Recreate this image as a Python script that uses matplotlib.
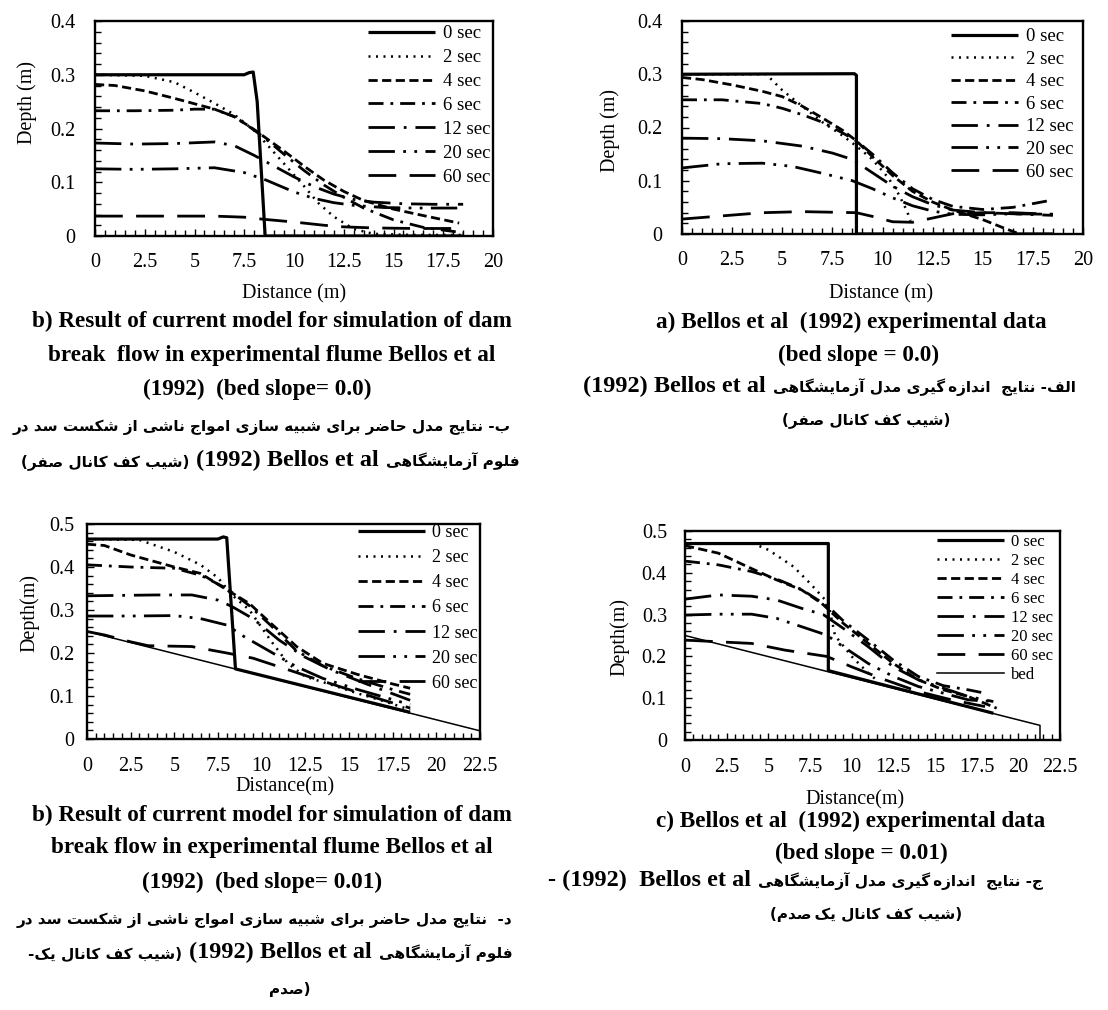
import matplotlib
matplotlib.use("Agg")
import matplotlib.pyplot as plt
from matplotlib.ticker import MultipleLocator

plt.rcParams["font.family"] = "Liberation Serif"

# ---------------------------------------------------------------- data
labels = ["0 sec", "2 sec", "4 sec", "6 sec", "12 sec", "20 sec", "60 sec"]

# current model, bed slope 0.0
mod0_x_t0 = [0, 7.5, 7.75, 7.95, 8.15, 8.55, 9.0, 18.5]
mod0_y_t0 = [0.3, 0.3, 0.304, 0.305, 0.25, 0.0, 0.0, 0.0]
mod0_x_t2 = [0, 2.5, 4, 5, 6, 7, 8, 8.6, 9.2, 9.8, 10.5, 11.2, 12, 13, 14, 16, 18.5]
mod0_y_t2 = [0.3, 0.298, 0.286, 0.267, 0.247, 0.226, 0.196, 0.172, 0.147, 0.122, 0.093, 0.062, 0.036, 0.013, 0.004, 0.002, 0.002]
mod0_x_t4 = [0, 1, 2.5, 4, 5, 6, 7, 8, 8.6, 9.5, 10.5, 11.5, 12.5, 13.5, 15, 16.5, 18.3]
mod0_y_t4 = [0.282, 0.28, 0.27, 0.256, 0.246, 0.236, 0.222, 0.198, 0.182, 0.158, 0.13, 0.104, 0.083, 0.066, 0.05, 0.038, 0.024]
mod0_x_t6 = [0, 2, 4, 5, 6, 7, 8, 8.6, 9.5, 10.5, 11.5, 12.5, 13.5, 15, 16.5, 18.5]
mod0_y_t6 = [0.233, 0.233, 0.234, 0.236, 0.236, 0.222, 0.197, 0.18, 0.152, 0.122, 0.095, 0.072, 0.052, 0.03, 0.016, 0.006]
mod0_x_t12 = [0, 2, 4, 6, 7, 8, 9, 10, 11, 12, 13, 14, 15.5, 17, 18.5]
mod0_y_t12 = [0.173, 0.171, 0.172, 0.175, 0.168, 0.15, 0.13, 0.11, 0.092, 0.078, 0.068, 0.063, 0.06, 0.059, 0.059]
mod0_x_t20 = [0, 2, 4, 6, 7.5, 8.6, 10, 11, 12, 13, 14.5, 16, 18.5]
mod0_y_t20 = [0.125, 0.124, 0.125, 0.127, 0.118, 0.104, 0.082, 0.07, 0.062, 0.057, 0.053, 0.052, 0.052]
mod0_x_t60 = [0, 3, 6, 7.5, 8.5, 10, 11.5, 12.5, 14, 16, 18.5]
mod0_y_t60 = [0.037, 0.037, 0.037, 0.035, 0.031, 0.026, 0.02, 0.017, 0.015, 0.014, 0.014]

# experimental data, bed slope 0.0
exp0_x_t0 = [0, 8.6, 8.7, 8.7, 18.5]
exp0_y_t0 = [0.3, 0.301, 0.298, 0.0, 0.0]
exp0_x_t2 = [0, 4.2, 5, 6, 7, 8, 8.7, 9.5, 10.3, 10.8, 11.2, 11.4]
exp0_y_t2 = [0.3, 0.3, 0.27, 0.24, 0.21, 0.185, 0.165, 0.14, 0.105, 0.075, 0.045, 0.025]
exp0_x_t4 = [0, 1, 2.5, 4, 5, 6, 7, 8, 8.7, 9.5, 10.5, 11.5, 12.5, 13.5, 15, 16, 16.7]
exp0_y_t4 = [0.294, 0.29, 0.28, 0.268, 0.258, 0.24, 0.218, 0.195, 0.175, 0.145, 0.11, 0.08, 0.06, 0.045, 0.027, 0.012, 0.002]
exp0_x_t6 = [0, 2, 4, 5, 6, 7, 8, 8.7, 9.5, 10.5, 11.5, 12.5, 13.5, 15, 16.5, 18.5]
exp0_y_t6 = [0.252, 0.252, 0.245, 0.236, 0.224, 0.21, 0.19, 0.175, 0.15, 0.115, 0.085, 0.065, 0.052, 0.046, 0.05, 0.064]
exp0_x_t12 = [0, 2, 4, 6, 7.5, 8.5, 9.5, 10.5, 11.5, 12.5, 13.5, 15, 16.5, 18.5]
exp0_y_t12 = [0.18, 0.179, 0.175, 0.165, 0.152, 0.14, 0.115, 0.09, 0.07, 0.055, 0.045, 0.04, 0.038, 0.035]
exp0_x_t20 = [0, 2, 4, 5.5, 7, 8.5, 9.5, 10.5, 11.5, 12.5, 13.5, 15, 16.5, 18.5]
exp0_y_t20 = [0.124, 0.132, 0.133, 0.127, 0.114, 0.1, 0.085, 0.068, 0.053, 0.043, 0.037, 0.036, 0.038, 0.037]
exp0_x_t60 = [0, 2, 4, 6, 8.7, 9.5, 10.5, 11.5, 12.5, 13.5, 15, 16.5, 18.5]
exp0_y_t60 = [0.028, 0.034, 0.04, 0.042, 0.04, 0.033, 0.023, 0.022, 0.03, 0.038, 0.04, 0.04, 0.037]

# current model, bed slope 0.01
mod1_x_bed = [0, 22.5]
mod1_y_bed = [0.25, 0.019]
mod1_x_t0 = [0, 7.5, 7.8, 8.0, 8.5, 18.5]
mod1_y_t0 = [0.465, 0.465, 0.47, 0.468, 0.163, 0.062]
mod1_x_t2 = [0, 3, 5, 6.5, 7.5, 8.3, 9.3, 10.5, 11.5, 12.5, 14, 15.5, 17, 18.5]
mod1_y_t2 = [0.465, 0.463, 0.435, 0.405, 0.375, 0.335, 0.3, 0.23, 0.176, 0.145, 0.126, 0.106, 0.088, 0.068]
mod1_x_t4 = [0, 1, 2.5, 5, 6.5, 8, 9.3, 10.5, 12, 13.5, 15.5, 17.5, 18.5]
mod1_y_t4 = [0.453, 0.45, 0.428, 0.4, 0.385, 0.347, 0.315, 0.27, 0.215, 0.176, 0.15, 0.128, 0.118]
mod1_x_t6 = [0, 2.5, 5, 6.5, 8, 9.3, 10.5, 12, 13.5, 15.5, 17.5, 18.5]
mod1_y_t6 = [0.405, 0.4, 0.397, 0.381, 0.35, 0.31, 0.265, 0.205, 0.17, 0.14, 0.115, 0.104]
mod1_x_t12 = [0, 2, 4, 6, 7.5, 8.3, 9.5, 11, 12.5, 14, 16, 18.5]
mod1_y_t12 = [0.333, 0.334, 0.335, 0.335, 0.323, 0.308, 0.28, 0.23, 0.19, 0.16, 0.128, 0.09]
mod1_x_t20 = [0, 2.5, 5, 6.5, 8, 9, 10.5, 12, 13.5, 15.5, 18.5]
mod1_y_t20 = [0.286, 0.286, 0.287, 0.28, 0.265, 0.238, 0.203, 0.168, 0.141, 0.115, 0.08]
mod1_x_t60 = [0, 1, 2.5, 3.5, 6, 8, 9.5, 11, 13, 15, 17, 18.5]
mod1_y_t60 = [0.25, 0.242, 0.226, 0.217, 0.215, 0.2, 0.188, 0.168, 0.141, 0.115, 0.09, 0.072]

# experimental data, bed slope 0.01
exp1_x_bed = [0, 21.3, 21.3]
exp1_y_bed = [0.25, 0.035, 0.0]
exp1_x_t0 = [0, 8.6, 8.6, 18.5]
exp1_y_t0 = [0.47, 0.47, 0.166, 0.064]
exp1_x_t2 = [0, 4.1, 5, 6.5, 7.5, 8.6, 9.0, 10, 11, 11.6]
exp1_y_t2 = [0.47, 0.47, 0.455, 0.415, 0.375, 0.327, 0.25, 0.2, 0.16, 0.14]
exp1_x_t4 = [0, 2, 4, 5.5, 7, 8.2, 9.5, 11, 12.5, 14, 15.5, 17, 18.7]
exp1_y_t4 = [0.465, 0.447, 0.41, 0.383, 0.359, 0.327, 0.279, 0.231, 0.183, 0.144, 0.12, 0.104, 0.076]
exp1_x_t6 = [0, 2, 4, 5.5, 7, 8.6, 9.5, 11, 12.5, 14, 15.5, 17, 18]
exp1_y_t6 = [0.428, 0.419, 0.403, 0.385, 0.36, 0.319, 0.285, 0.239, 0.191, 0.152, 0.13, 0.12, 0.112]
exp1_x_t12 = [0, 2, 4, 5.5, 7, 8.3, 9.5, 11, 12.5, 14, 15.5, 17, 18.5]
exp1_y_t12 = [0.337, 0.347, 0.344, 0.335, 0.315, 0.3, 0.267, 0.223, 0.175, 0.144, 0.124, 0.104, 0.092]
exp1_x_t20 = [0, 2, 4, 5.5, 7, 8.5, 9.5, 11, 12.5, 14, 15.5, 17, 18.5]
exp1_y_t20 = [0.299, 0.301, 0.301, 0.291, 0.271, 0.251, 0.223, 0.183, 0.152, 0.128, 0.112, 0.096, 0.092]
exp1_x_t60 = [0, 2, 4, 6, 8.5, 10, 12, 14, 16, 18]
exp1_y_t60 = [0.239, 0.235, 0.231, 0.215, 0.2, 0.175, 0.144, 0.116, 0.096, 0.08]

xticks_20 = [0, 2.5, 5, 7.5, 10, 12.5, 15, 17.5, 20]
xticklabels_20 = ["0", "2.5", "5", "7.5", "10", "12.5", "15", "17.5", "20"]
xticks_22 = [0, 2.5, 5, 7.5, 10, 12.5, 15, 17.5, 20, 22.5]
xticklabels_22 = ["0", "2.5", "5", "7.5", "10", "12.5", "15", "17.5", "20", "22.5"]
yticks_04 = [0, 0.1, 0.2, 0.3, 0.4]
yticklabels_04 = ["0", "0.1", "0.2", "0.3", "0.4"]
yticks_05 = [0, 0.1, 0.2, 0.3, 0.4, 0.5]
yticklabels_05 = ["0", "0.1", "0.2", "0.3", "0.4", "0.5"]

# ---------------------------------------------------------------- line styles
STYLE = {
    "0 sec": dict(ls="-", lw=2.3),
    "2 sec": dict(ls=(0, (0.8, 2.2)), lw=1.8),
    "4 sec": dict(ls=(0, (3.3, 1.6)), lw=2.0),
    "6 sec": dict(ls=(0, (5.4, 2.5, 1.0, 2.5)), lw=2.0),
    "12 sec": dict(ls=(0, (9.5, 3.2, 1.0, 3.2)), lw=2.0),
    "20 sec": dict(ls=(0, (9.5, 3.0, 1.0, 3.0, 1.0, 3.0)), lw=2.0),
    "60 sec": dict(ls=(0, (10.0, 4.8)), lw=2.0),
}

# ---------------------------------------------------------------- Persian shaping
_FORMS = {
    0x0622: (0xFE81, 0xFE82, None, None),
    0x0627: (0xFE8D, 0xFE8E, None, None),
    0x0628: (0xFE8F, 0xFE90, 0xFE91, 0xFE92),
    0x067E: (0xFB56, 0xFB57, 0xFB58, 0xFB59),
    0x062A: (0xFE95, 0xFE96, 0xFE97, 0xFE98),
    0x062B: (0xFE99, 0xFE9A, 0xFE9B, 0xFE9C),
    0x062C: (0xFE9D, 0xFE9E, 0xFE9F, 0xFEA0),
    0x0686: (0xFB7A, 0xFB7B, 0xFB7C, 0xFB7D),
    0x062D: (0xFEA1, 0xFEA2, 0xFEA3, 0xFEA4),
    0x062E: (0xFEA5, 0xFEA6, 0xFEA7, 0xFEA8),
    0x062F: (0xFEA9, 0xFEAA, None, None),
    0x0630: (0xFEAB, 0xFEAC, None, None),
    0x0631: (0xFEAD, 0xFEAE, None, None),
    0x0632: (0xFEAF, 0xFEB0, None, None),
    0x0698: (0xFB8A, 0xFB8B, None, None),
    0x0633: (0xFEB1, 0xFEB2, 0xFEB3, 0xFEB4),
    0x0634: (0xFEB5, 0xFEB6, 0xFEB7, 0xFEB8),
    0x0635: (0xFEB9, 0xFEBA, 0xFEBB, 0xFEBC),
    0x0636: (0xFEBD, 0xFEBE, 0xFEBF, 0xFEC0),
    0x0637: (0xFEC1, 0xFEC2, 0xFEC3, 0xFEC4),
    0x0638: (0xFEC5, 0xFEC6, 0xFEC7, 0xFEC8),
    0x0639: (0xFEC9, 0xFECA, 0xFECB, 0xFECC),
    0x063A: (0xFECD, 0xFECE, 0xFECF, 0xFED0),
    0x0641: (0xFED1, 0xFED2, 0xFED3, 0xFED4),
    0x0642: (0xFED5, 0xFED6, 0xFED7, 0xFED8),
    0x06A9: (0xFB8E, 0xFB8F, 0xFB90, 0xFB91),
    0x06AF: (0xFB92, 0xFB93, 0xFB94, 0xFB95),
    0x0644: (0xFEDD, 0xFEDE, 0xFEDF, 0xFEE0),
    0x0645: (0xFEE1, 0xFEE2, 0xFEE3, 0xFEE4),
    0x0646: (0xFEE5, 0xFEE6, 0xFEE7, 0xFEE8),
    0x0648: (0xFEED, 0xFEEE, None, None),
    0x0647: (0xFEE9, 0xFEEA, 0xFEEB, 0xFEEC),
    0x06CC: (0xFBFC, 0xFBFD, 0xFBFE, 0xFBFF),
}


def _joins_next(c):
    f = _FORMS.get(ord(c))
    return f is not None and f[2] is not None


def rtl(s):
    """Contextual shaping plus right-to-left reordering of a Persian run."""
    s = s.replace("\u064A", "\u06CC").replace("\u0643", "\u06A9")
    out = []
    i, n = 0, len(s)
    while i < n:
        c = s[i]
        f = _FORMS.get(ord(c))
        if f is None:
            out.append("\u2009" if c == "\u200c" else c)
            i += 1
            continue
        pj = i > 0 and _joins_next(s[i - 1])
        if c == "\u0644" and i + 1 < n and s[i + 1] in "\u0627\u0622":
            lig = (0xFEFB, 0xFEFC) if s[i + 1] == "\u0627" else (0xFEF5, 0xFEF6)
            out.append(chr(lig[1] if pj else lig[0]))
            i += 2
            continue
        nj = f[2] is not None and i + 1 < n and ord(s[i + 1]) in _FORMS
        if pj and nj:
            g = f[3]
        elif pj:
            g = f[1]
        elif nj:
            g = f[2]
        else:
            g = f[0]
        out.append(chr(g))
        i += 1
    return "".join(reversed(out))


# ---------------------------------------------------------------- figure
W, H = 1108, 1010
fig = plt.figure(figsize=(W / 100, H / 100), dpi=100)


def axes_px(l, t, r, b):
    return fig.add_axes([l / W, 1 - b / H, (r - l) / W, (b - t) / H])


def panel(ax, series, xmax, ymax, xt, xtl, yt, ytl, xlabel, ylabel,
          xlab_pos, ylab_pos, leg_anchor, leg_fs, leg_sp, xpad, ypad,
          bed=None, bed_label=None):
    for lab, (xs, ys) in zip(labels, series):
        ax.plot(xs, ys, color="black", label=lab, solid_capstyle="butt",
                dash_capstyle="butt", **STYLE[lab])
    if bed is not None:
        ax.plot(bed[0], bed[1], color="black", lw=1.1, ls="-", label=bed_label)
    ax.set_xlim(0, xmax)
    ax.set_ylim(0, ymax)
    ax.set_xticks(xt)
    ax.set_xticklabels(xtl)
    ax.set_yticks(yt)
    ax.set_yticklabels(ytl)
    ax.xaxis.set_minor_locator(MultipleLocator(0.5))
    ax.yaxis.set_minor_locator(MultipleLocator(0.02))
    ax.tick_params(which="both", direction="in", top=False, right=False,
                   width=1.0, labelsize=14.5)
    ax.tick_params(which="major", length=5)
    ax.tick_params(which="minor", length=4)
    ax.tick_params(axis="x", which="major", pad=xpad)
    ax.tick_params(axis="y", which="major", pad=ypad)
    for sp in ax.spines.values():
        sp.set_linewidth(1.7)
    ax.set_xlabel(xlabel, fontsize=14.5)
    ax.set_ylabel(ylabel, fontsize=14.5)
    ax.xaxis.set_label_coords(*xlab_pos)
    ax.yaxis.set_label_coords(*ylab_pos)
    handles, labs = ax.get_legend_handles_labels()
    if bed_label is None:
        handles, labs = handles[:7], labs[:7]
    hl = 67.0 / (leg_fs * 100 / 72)
    ax.legend(handles, labs, loc="upper left", bbox_to_anchor=leg_anchor,
              frameon=False, fontsize=leg_fs, labelspacing=leg_sp,
              handlelength=hl, handletextpad=0.4, borderpad=0,
              borderaxespad=0)


ax_a = axes_px(95, 21, 493, 236)
panel(ax_a,
      [(mod0_x_t0, mod0_y_t0), (mod0_x_t2, mod0_y_t2), (mod0_x_t4, mod0_y_t4),
       (mod0_x_t6, mod0_y_t6), (mod0_x_t12, mod0_y_t12), (mod0_x_t20, mod0_y_t20),
       (mod0_x_t60, mod0_y_t60)],
      20, 0.4, xticks_20, xticklabels_20, yticks_04, yticklabels_04,
      "Distance (m)", "Depth (m)", (0.5, -0.225), (-0.146, 0.62),
      (0.686, 0.98), 13.5, 0.36, 12, 14)

ax_b = axes_px(682, 21, 1083, 234)
panel(ax_b,
      [(exp0_x_t0, exp0_y_t0), (exp0_x_t2, exp0_y_t2), (exp0_x_t4, exp0_y_t4),
       (exp0_x_t6, exp0_y_t6), (exp0_x_t12, exp0_y_t12), (exp0_x_t20, exp0_y_t20),
       (exp0_x_t60, exp0_y_t60)],
      20, 0.4, xticks_20, xticklabels_20, yticks_04, yticklabels_04,
      "Distance (m)", "Depth (m)", (0.496, -0.235), (-0.155, 0.484),
      (0.671, 0.967), 13.5, 0.29, 12, 14)

ax_c = axes_px(87, 524, 480, 739)
panel(ax_c,
      [(mod1_x_t0, mod1_y_t0), (mod1_x_t2, mod1_y_t2), (mod1_x_t4, mod1_y_t4),
       (mod1_x_t6, mod1_y_t6), (mod1_x_t12, mod1_y_t12), (mod1_x_t20, mod1_y_t20),
       (mod1_x_t60, mod1_y_t60)],
      22.5, 0.5, xticks_22, xticklabels_22, yticks_05, yticklabels_05,
      "Distance(m)", "Depth(m)", (0.504, -0.18), (-0.122, 0.588),
      (0.69, 1.0), 13, 0.45, 13, 9, bed=(mod1_x_bed, mod1_y_bed))

ax_d = axes_px(685, 531, 1060, 740)
panel(ax_d,
      [(exp1_x_t0, exp1_y_t0), (exp1_x_t2, exp1_y_t2), (exp1_x_t4, exp1_y_t4),
       (exp1_x_t6, exp1_y_t6), (exp1_x_t12, exp1_y_t12), (exp1_x_t20, exp1_y_t20),
       (exp1_x_t60, exp1_y_t60)],
      22.5, 0.5, xticks_22, xticklabels_22, yticks_05, yticklabels_05,
      "Distance(m)", "Depth(m)", (0.453, -0.24), (-0.147, 0.494),
      (0.672, 0.986), 12, 0.18, 13, 13,
      bed=(exp1_x_bed, exp1_y_bed), bed_label="bed")

# ---------------------------------------------------------------- captions
EN_FS = 16.7
MIX_EN_FS = 17.5
FA_FS = 11.0
GAP = 7
renderer = fig.canvas.get_renderer()


def cap(x, y, s, ha="center"):
    fig.text(x / W, 1 - y / H, s, ha=ha, va="center", fontsize=EN_FS,
             fontweight="bold", family="Liberation Serif")


def mixed(x, y, parts, ha="center"):
    """Lay out a line of Persian ('fa') and Latin ('en') runs left to right."""
    objs = []
    for s, kind in parts:
        fam = "DejaVu Sans" if kind == "fa" else "Liberation Serif"
        fs = FA_FS if kind == "fa" else MIX_EN_FS
        objs.append(fig.text(0, 1 - (y + 6) / H, s, ha="left", va="baseline",
                             fontsize=fs, fontweight="bold", family=fam))
    widths = [t.get_window_extent(renderer).width for t in objs]
    total = sum(widths) + GAP * (len(objs) - 1)
    x0 = x - total / 2 if ha == "center" else x
    for t, w in zip(objs, widths):
        t.set_x(x0 / W)
        x0 += w + GAP


# top left
cap(272, 321, "b) Result of current model for simulation of dam")
cap(272, 355, "break  flow in experimental flume Bellos et al")
cap(257, 389, "(1992)  (bed slope= 0.0)")
mixed(262, 425, [(rtl("ب- نتایج مدل حاضر برای شبیه سازی امواج ناشی از شکست سد در"), "fa")])
mixed(270, 460, [("(" + rtl("شیب کف کانال صفر") + ")", "fa"),
                 ("(1992) Bellos et al", "en"),
                 (rtl("فلوم آزمایشگاهی"), "fa")])

# top right
cap(851, 322, "a) Bellos et al  (1992) experimental data")
cap(859, 355, "(bed slope = 0.0)")
mixed(583, 386, [("(1992) Bellos et al", "en"),
                 (rtl("الف- نتایج  اندازه\u200cگیری مدل آزمایشگاهی"), "fa")], ha="left")
mixed(866, 418, [("(" + rtl("شیب کف کانال صفر") + ")", "fa")])

# bottom left
cap(272, 815, "b) Result of current model for simulation of dam")
cap(272, 848, "break flow in experimental flume Bellos et al")
cap(262, 882, "(1992)  (bed slope= 0.01)")
mixed(265, 918, [(rtl("د-  نتایج مدل حاضر برای شبیه سازی امواج ناشی از شکست سد در"), "fa")])
mixed(270, 952, [("-" + rtl("شیب کف کانال یک") + ")", "fa"),
                 ("(1992) Bellos et al", "en"),
                 (rtl("فلوم آزمایشگاهی"), "fa")])
mixed(290, 988, [(rtl("صدم") + ")", "fa")])

# bottom right
cap(851, 821, "c) Bellos et al  (1992) experimental data")
cap(861, 853, "(bed slope = 0.01)")
mixed(548, 880, [("- (1992)  Bellos et al", "en"),
                 (rtl("ج- نتایج  اندازه\u200cگیری مدل آزمایشگاهی"), "fa")], ha="left")
mixed(866, 913, [("(" + rtl("شیب کف کانال یک\u200cصدم") + ")", "fa")])

fig.savefig("out.png", dpi=100)
